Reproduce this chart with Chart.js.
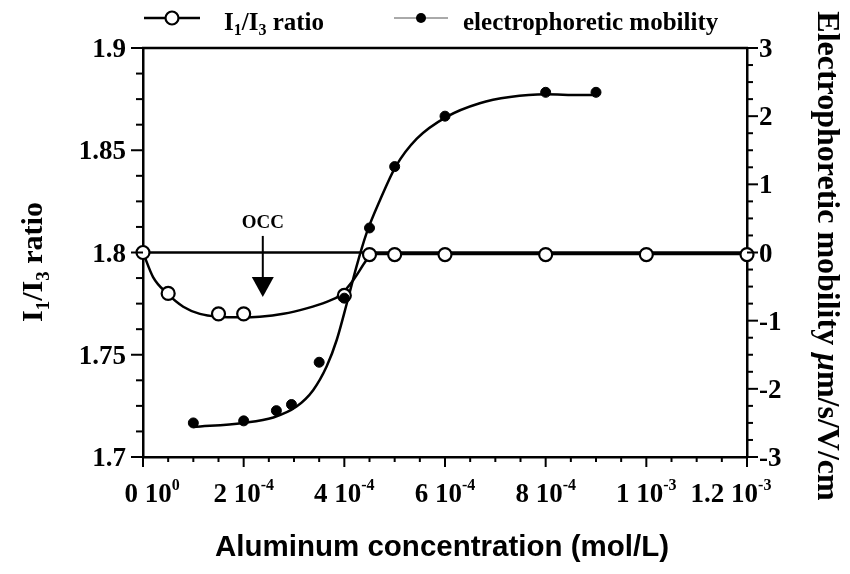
<!DOCTYPE html>
<html>
<head>
<meta charset="utf-8">
<script src="https://cdn.jsdelivr.net/npm/chart.js@4.4.1/dist/chart.umd.min.js"></script>
<style>
  html, body { margin: 0; padding: 0; background: #fff; }
  #wrap { width: 850px; height: 574px; }
</style>
</head>
<body>
<div id="wrap"><canvas id="chart" width="850" height="574"></canvas></div>
<script>
/* I1/I3 ratio and electrophoretic mobility vs aluminum concentration */

// measured points, I1/I3 ratio (left axis)
const ratioConc = [0, 5e-5, 1.5e-4, 2e-4, 4e-4, 4.5e-4, 5e-4, 6e-4, 8e-4, 1e-3, 1.2e-3];
const ratioVals = [1.8, 1.78, 1.77, 1.77, 1.779, 1.799, 1.799, 1.799, 1.799, 1.799, 1.799];

// measured points, electrophoretic mobility (right axis)
const mobilityConc = [1e-4, 2e-4, 2.65e-4, 2.95e-4, 3.5e-4, 4e-4, 4.5e-4, 5e-4, 6e-4, 8e-4, 9e-4];
const mobilityVals = [-2.5, -2.47, -2.32, -2.23, -1.61, -0.67, 0.36, 1.26, 2.0, 2.35, 2.35];

// fitted curves
const ratioFitConc = [0, 2e-5, 4.8e-5, 8e-5, 1.13e-4, 1.5e-4, 1.93e-4, 2.32e-4, 2.79e-4, 3.25e-4,
                      3.65e-4, 3.91e-4, 4.18e-4, 4.44e-4, 4.54e-4, 6e-4, 8e-4, 1e-3, 1.2e-3];
const ratioFitVals = [1.8, 1.788, 1.78, 1.7735, 1.77, 1.7686, 1.7683, 1.7686, 1.77, 1.7727,
                      1.7759, 1.779, 1.7866, 1.7963, 1.7993, 1.7993, 1.7993, 1.7993, 1.7993];

const mobilityFitConc = [1e-4, 1.99e-4, 2.59e-4, 3.05e-4, 3.38e-4, 3.65e-4, 3.85e-4, 4.05e-4, 4.24e-4,
                         4.44e-4, 4.71e-4, 5.02e-4, 5.44e-4, 6.03e-4, 6.69e-4, 7.29e-4, 8e-4, 8.68e-4, 8.98e-4];
const mobilityFitVals = [-2.56, -2.5, -2.42, -2.26, -2.02, -1.67, -1.28, -0.745, -0.21,
                         0.28, 0.77, 1.26, 1.67, 1.99, 2.19, 2.28, 2.32, 2.31, 2.31];

// zero mobility reference line
const zeroConc = [0, 1.2e-3];
const zeroVals = [0, 0];

// axes
const xTicks       = [0, 2e-4, 4e-4, 6e-4, 8e-4, 1e-3, 1.2e-3];
const xTickMant    = ["0", "2", "4", "6", "8", "1", "1.2"];
const xTickExp     = ["0", "-4", "-4", "-4", "-4", "-3", "-3"];
const leftTicks    = [1.7, 1.75, 1.8, 1.85, 1.9];
const leftLabels   = ["1.7", "1.75", "1.8", "1.85", "1.9"];
const rightTicks   = [-3, -2, -1, 0, 1, 2, 3];
const rightLabels  = ["-3", "-2", "-1", "0", "1", "2", "3"];

// OCC marker
const occConc  = 2.38e-4;
const occTextY = 1.8152;
const occFromY = 1.8081;
const occToY   = 1.7782;

const SERIF = "'Liberation Serif', 'Times New Roman', serif";
const SANS  = "'Liberation Sans', Arial, sans-serif";

const pts = (xs, ys) => xs.map((x, i) => ({ x, y: ys[i] }));

// parts: [text, size, dy, italic]
function richWidth(ctx, parts) {
  let w = 0;
  parts.forEach(p => {
    ctx.font = (p[3] ? "italic " : "") + "bold " + p[1] + "px " + SERIF;
    w += ctx.measureText(p[0]).width;
  });
  return w;
}
function drawRich(ctx, parts, x, y, align) {
  const w = richWidth(ctx, parts);
  let cx = align === "center" ? x - w / 2 : align === "right" ? x - w : x;
  ctx.textAlign = "left";
  ctx.textBaseline = "alphabetic";
  parts.forEach(p => {
    ctx.font = (p[3] ? "italic " : "") + "bold " + p[1] + "px " + SERIF;
    ctx.fillText(p[0], cx, y + p[2]);
    cx += ctx.measureText(p[0]).width;
  });
}

function seg(ctx, x1, y1, x2, y2) {
  ctx.beginPath(); ctx.moveTo(x1, y1); ctx.lineTo(x2, y2); ctx.stroke();
}

const decor = {
  id: "decor",
  afterDraw(chart) {
    const { ctx, chartArea: a } = chart;
    const { x, y, y1 } = chart.scales;
    ctx.save();
    ctx.strokeStyle = "#000";
    ctx.fillStyle   = "#000";
    ctx.lineCap     = "butt";

    // top frame line
    ctx.lineWidth = 2.5;
    seg(ctx, a.left - 1, a.top, a.right + 1, a.top);

    // tick marks
    ctx.lineWidth = 2;
    for (let i = 0; i <= 16; i++) {
      const py = y.getPixelForValue(1.7 + i * 0.0125);
      seg(ctx, a.left, py, a.left - (i % 4 === 0 ? 12 : 7), py);
    }
    for (let i = 0; i <= 24; i++) {
      const py = y1.getPixelForValue(-3 + i * 0.25);
      seg(ctx, a.right, py, a.right + (i % 4 === 0 ? 11 : 6), py);
    }
    for (let i = 0; i <= 24; i++) {
      const px = x.getPixelForValue(i * 5e-5);
      seg(ctx, px, a.bottom, px, a.bottom + (i % 4 === 0 ? 10 : 5));
    }

    // tick labels
    leftTicks.forEach((v, i) => {
      drawRich(ctx, [[leftLabels[i], 27, 0]], a.left - 17, y.getPixelForValue(v) + 9, "right");
    });
    rightTicks.forEach((v, i) => {
      drawRich(ctx, [[rightLabels[i], 27, 0]], a.right + 12, y1.getPixelForValue(v) + 9, "left");
    });
    xTicks.forEach((v, i) => {
      const parts = [[xTickMant[i] + " 10", 27, 0], [xTickExp[i], 16, -12]];
      // first and last labels are nudged inward, as in the figure
      const nudge = i === 0 ? 9 : i === xTicks.length - 1 ? -16 : 0;
      drawRich(ctx, parts, x.getPixelForValue(v) + nudge, a.bottom + 45, "center");
    });

    // axis titles
    ctx.save();
    ctx.translate(32, 262);
    ctx.rotate(-Math.PI / 2);
    drawRich(ctx, [["I", 30, 0], ["1", 19, 7], ["/I", 30, 0], ["3", 19, 7], [" ratio", 30, 0]], 0, 10, "center");
    ctx.restore();

    ctx.save();
    ctx.translate(828, 256);
    ctx.rotate(Math.PI / 2);
    drawRich(ctx, [["Electrophoretic mobility ", 32, 0], ["\u03bc", 32, 0, true], ["m/s/V/cm", 32, 0]], 0, 10, "center");
    ctx.restore();

    ctx.font = "bold 29.5px " + SANS;
    ctx.textAlign = "center";
    ctx.textBaseline = "middle";
    ctx.fillText("Aluminum concentration (mol/L)", 442, 548);

    // OCC arrow
    const ax = x.getPixelForValue(occConc);
    drawRich(ctx, [["OCC", 19, 0]], ax, y.getPixelForValue(occTextY) + 7, "center");
    const yFrom = y.getPixelForValue(occFromY);
    const yTip  = y.getPixelForValue(occToY);
    ctx.lineWidth = 2;
    seg(ctx, ax, yFrom, ax, yTip - 18);
    ctx.beginPath();
    ctx.moveTo(ax - 11, yTip - 20);
    ctx.lineTo(ax + 11, yTip - 20);
    ctx.lineTo(ax, yTip);
    ctx.closePath();
    ctx.fill();

    // legend
    ctx.lineWidth = 2.5;
    seg(ctx, 144, 18, 200, 18);
    ctx.beginPath();
    ctx.arc(172, 18, 6.5, 0, Math.PI * 2);
    ctx.fillStyle = "#fff"; ctx.fill();
    ctx.lineWidth = 2.2; ctx.stroke();
    ctx.fillStyle = "#000";
    drawRich(ctx, [["I", 25, 0], ["1", 16, 5], ["/I", 25, 0], ["3", 16, 5], [" ratio", 25, 0]], 224, 30, "left");

    ctx.lineWidth = 1;
    ctx.strokeStyle = "#555";
    seg(ctx, 394, 18, 448, 18);
    ctx.beginPath();
    ctx.arc(421, 18, 5, 0, Math.PI * 2);
    ctx.fill();
    drawRich(ctx, [["electrophoretic mobility", 25, 0]], 463, 30, "left");

    ctx.restore();
  }
};

const lineSet = (data, axis, width) => ({
  data, yAxisID: axis, showLine: true, borderColor: "#000", borderWidth: width,
  pointRadius: 0, cubicInterpolationMode: "monotone", fill: false, clip: false,
});

new Chart(document.getElementById("chart"), {
  type: "scatter",
  data: {
    datasets: [
      {
        label: "electrophoretic mobility", data: pts(mobilityConc, mobilityVals), yAxisID: "y1",
        pointRadius: 5, pointBackgroundColor: "#000", pointBorderColor: "#000", pointBorderWidth: 1,
        showLine: false, clip: false, order: 0,
      },
      {
        label: "I1/I3 ratio", data: pts(ratioConc, ratioVals), yAxisID: "y",
        pointRadius: 6.5, pointBackgroundColor: "#fff", pointBorderColor: "#000", pointBorderWidth: 2.2,
        showLine: false, clip: false, order: 1,
      },
      { ...lineSet(pts(ratioFitConc, ratioFitVals), "y", 2.5), order: 2 },
      { ...lineSet(pts(mobilityFitConc, mobilityFitVals), "y1", 2.5), order: 3 },
      { ...lineSet(pts(zeroConc, zeroVals), "y1", 2.5), order: 4 },
    ],
  },
  options: {
    responsive: false,
    animation: false,
    devicePixelRatio: 1,
    layout: { padding: { top: 48, left: 0, right: 0, bottom: 0 } },
    plugins: { legend: { display: false }, tooltip: { enabled: false } },
    scales: {
      x: {
        type: "linear", min: 0, max: 1.2e-3,
        ticks: { display: false }, grid: { display: false },
        border: { display: true, color: "#000", width: 2.5 },
        afterFit: s => { s.height = 117; },
      },
      y: {
        position: "left", min: 1.7, max: 1.9,
        ticks: { display: false }, grid: { display: false },
        border: { display: true, color: "#000", width: 2.5 },
        afterFit: s => { s.width = 143; },
      },
      y1: {
        position: "right", min: -3, max: 3,
        ticks: { display: false }, grid: { display: false },
        border: { display: true, color: "#000", width: 2.5 },
        afterFit: s => { s.width = 103; },
      },
    },
  },
  plugins: [decor],
});
</script>
</body>
</html>
